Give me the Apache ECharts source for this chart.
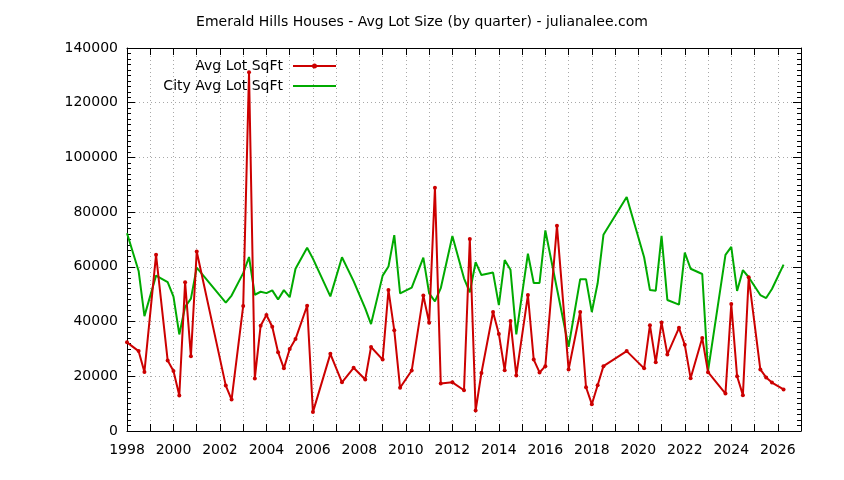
<!DOCTYPE html>
<html>
<head>
<meta charset="utf-8">
<script src="https://cdn.jsdelivr.net/npm/echarts@6/dist/echarts.min.js"></script>
<style>
html,body{margin:0;padding:0;background:#fff;}
#chart{width:844px;height:480px;}
</style>
</head>
<body>
<div id="chart"></div>
<script>
// quarter dates (decimal years)
var dates = [1998.0,1998.5,1998.75,1999.25,1999.75,2000.0,2000.25,2000.5,2000.75,2001.0,
  2002.25,2002.5,2003.0,2003.25,2003.5,2003.75,2004.0,2004.25,2004.5,2004.75,
  2005.0,2005.25,2005.75,2006.0,2006.75,2007.25,2007.75,2008.25,2008.5,2009.0,
  2009.25,2009.5,2009.75,2010.25,2010.75,2011.0,2011.25,2011.5,2012.0,2012.5,
  2012.75,2013.0,2013.25,2013.75,2014.0,2014.25,2014.5,2014.75,2015.25,2015.5,
  2015.75,2016.0,2016.5,2017.0,2017.5,2017.75,2018.0,2018.25,2018.5,2019.5,
  2020.25,2020.5,2020.75,2021.0,2021.25,2021.75,2022.0,2022.25,2022.75,2023.0,
  2023.75,2024.0,2024.25,2024.5,2024.75,2025.25,2025.5,2025.75,2026.25];

var avgLot = [32400,29200,21600,64400,25800,21900,13000,54400,27300,65600,
  16600,11500,45700,131100,19200,38500,42400,38100,28800,22900,
  30000,33600,45800,6900,28200,17800,23100,18800,30700,26100,
  51500,36800,15800,22100,49500,39600,88900,17400,17800,14900,
  70200,7500,21200,43500,35500,22200,40200,20300,49700,26100,
  21400,23700,75000,22500,43500,16000,9800,16700,23700,29200,
  22900,38700,25100,39700,28000,37700,31500,19300,34000,21500,
  13700,46400,20000,13100,56200,22500,19600,17700,15200];

var cityAvgLot = [72300,58500,42000,56800,54400,49100,35300,45400,48400,59700,
  46900,49500,57700,63600,49800,50900,50400,51400,48100,51500,
  48900,59300,67000,63000,49200,63500,54800,44800,39100,56800,
  60100,71600,50300,52400,63400,50300,47400,52200,71300,55800,
  50700,61700,57000,57900,46000,62500,58900,35300,64800,54100,
  54100,73300,52000,30800,55500,55500,43500,54000,71700,85500,
  63500,51500,51300,71300,47900,46200,65200,59300,57400,21900,
  64400,67300,51200,58800,56200,49700,48600,51900,60800];

var seriesNames = ['Avg Lot SqFt', 'City Avg Lot SqFt'];
var titleText = 'Emerald Hills Houses - Avg Lot Size (by quarter) - julianalee.com';

function pairs(xs, ys){ return xs.map(function(x,i){ return [x, ys[i]]; }); }

var FONT = 'DejaVu Sans';
var chart = echarts.init(document.getElementById('chart'), null, {renderer:'canvas'});

var gridLine = {show:true, lineStyle:{color:'#a8a8a8', width:1, type:[1,3]}};
var axisLine = {show:true, onZero:false, lineStyle:{color:'#000', width:1}};

// legend icons: line with a small dot / plain line (box 43 x 5)
var redIcon = 'path://M0,1.5L43,1.5L43,3.5L0,3.5Z M19,2.5A2.5,2.5,0,1,1,24,2.5A2.5,2.5,0,1,1,19,2.5Z';
var greenIcon = 'path://M0,0L43,0L43,2L0,2Z';

chart.setOption({
  animation:false,
  backgroundColor:'#fff',
  title:{text:titleText, left:'center', top:10,
    textStyle:{fontFamily:FONT, fontSize:14, fontWeight:'normal', color:'#000'}},
  legend:[
    {data:[{name:seriesNames[0], icon:redIcon}], orient:'horizontal', align:'right', right:508, top:59, padding:0,
      itemWidth:43, itemHeight:5,
      textStyle:{fontFamily:FONT, fontSize:14, color:'#000', padding:[0,5,0,0]}},
    {data:[{name:seriesNames[1], icon:greenIcon}], orient:'horizontal', align:'right', right:508, top:79, padding:0,
      itemWidth:43, itemHeight:2,
      textStyle:{fontFamily:FONT, fontSize:14, color:'#000', padding:[0,5,0,0]}}
  ],
  grid:{left:127, right:43, top:48, bottom:49, containLabel:false},
  xAxis:[
    {type:'value', position:'bottom', min:1998, max:2027, interval:1,
      axisLine:axisLine,
      axisTick:{show:true, inside:true, length:7, lineStyle:{color:'#000'}},
      axisLabel:{show:true, margin:12, fontFamily:FONT, fontSize:14, color:'#000',
        formatter:function(v){ return (v % 2 === 0 && v < 2027) ? String(v) : ''; }},
      splitLine:gridLine},
    {type:'value', position:'top', min:1998, max:2027, interval:1,
      axisLine:axisLine,
      axisTick:{show:true, inside:true, length:7, lineStyle:{color:'#000'}},
      axisLabel:{show:false}, splitLine:{show:false}}
  ],
  yAxis:[
    {type:'value', position:'left', min:0, max:140000, interval:20000,
      axisLine:axisLine,
      axisTick:{show:true, inside:true, length:8, lineStyle:{color:'#000'}},
      minorTick:{show:true, splitNumber:10, length:4, lineStyle:{color:'#000'}},
      axisLabel:{show:true, margin:9, fontFamily:FONT, fontSize:14, color:'#000',
        formatter:function(v){ return String(v); }},
      splitLine:gridLine},
    {type:'value', position:'right', min:0, max:140000, interval:20000,
      axisLine:axisLine,
      axisTick:{show:true, inside:true, length:8, lineStyle:{color:'#000'}},
      minorTick:{show:true, splitNumber:10, length:4, lineStyle:{color:'#000'}},
      axisLabel:{show:false}, splitLine:{show:false}}
  ],
  series:[
    {name:seriesNames[0], type:'line', xAxisIndex:0, yAxisIndex:0,
      data:pairs(dates, avgLot), symbol:'circle', symbolSize:4, showSymbol:true,
      lineStyle:{color:'#cc0000', width:2}, itemStyle:{color:'#cc0000'}, z:3},
    {name:seriesNames[1], type:'line', xAxisIndex:0, yAxisIndex:0,
      data:pairs(dates, cityAvgLot), symbol:'none', showSymbol:false,
      lineStyle:{color:'#00aa00', width:2}, itemStyle:{color:'#00aa00'}, z:2}
  ]
});
</script>
</body>
</html>
